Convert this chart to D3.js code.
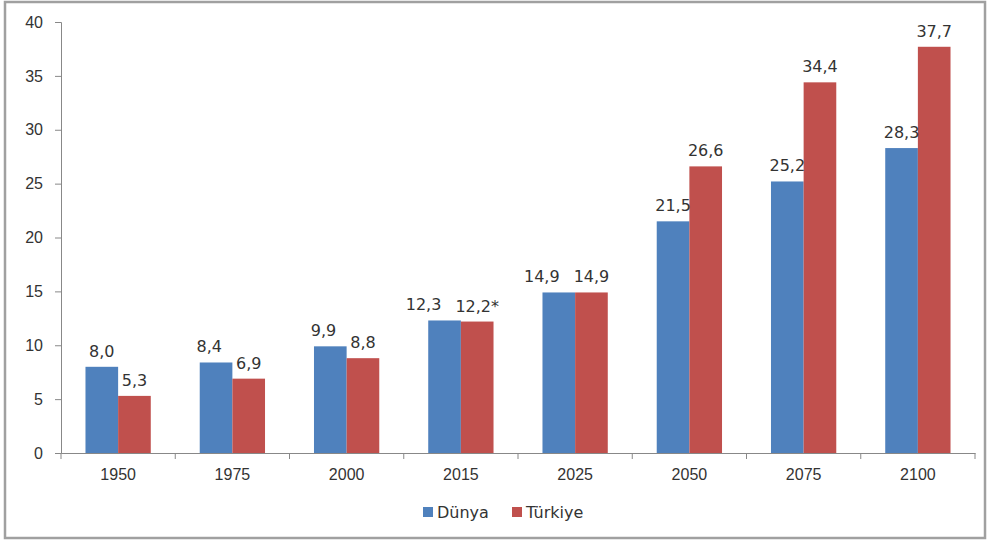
<!DOCTYPE html>
<html>
<head>
<meta charset="utf-8">
<script src="https://cdn.jsdelivr.net/npm/d3@7"></script>
<style>
  body { margin: 0; background: #fff; }
  svg { display: block; font-family: "DejaVu Sans", Verdana, sans-serif; }
</style>
</head>
<body>
<div id="chart"></div>
<script>
// データ
const years = ['1950', '1975', '2000', '2015', '2025', '2050', '2075', '2100'];
const dunya = [8.0, 8.4, 9.9, 12.3, 14.9, 21.5, 25.2, 28.3];
const turkiye = [5.3, 6.9, 8.8, 12.2, 14.9, 26.6, 34.4, 37.7];
const turkiyeNotes = ['', '', '', '*', '', '', '', ''];
const seriesNames = ['Dünya', 'Türkiye'];
const yTicks = [0, 5, 10, 15, 20, 25, 30, 35, 40];

const colors = ['#4f81bd', '#c0504d'];
const width = 989, height = 541;
const margin = { top: 22, right: 14, bottom: 88, left: 61 };

const svg = d3.select('#chart').append('svg')
    .attr('width', width)
    .attr('height', height);

// 外枠
svg.append('rect')
    .attr('x', 5).attr('y', 2)
    .attr('width', 980).attr('height', 536)
    .attr('fill', '#fff')
    .attr('stroke', '#a0a0a0')
    .attr('stroke-width', 2.5);

const x = d3.scaleBand()
    .domain(years)
    .range([margin.left, width - margin.right]);

const inner = d3.scaleBand()
    .domain([0, 1])
    .range([0, x.bandwidth()])
    .paddingOuter(0.75)
    .paddingInner(0);

const y = d3.scaleLinear()
    .domain([0, 40])
    .range([height - margin.bottom, margin.top]);

// Y軸
const yAxis = svg.append('g')
    .attr('transform', `translate(${margin.left},0)`)
    .call(d3.axisLeft(y).tickValues(yTicks).tickSize(6).tickPadding(12));
yAxis.select('.domain').attr('stroke', '#888');
yAxis.selectAll('.tick line').attr('stroke', '#888');
yAxis.selectAll('.tick text').attr('fill', '#333').style('font-size', '16px');

// X軸
const xAxis = svg.append('g')
    .attr('transform', `translate(0,${y(0)})`)
    .call(d3.axisBottom(x).tickSize(0).tickPadding(16));
xAxis.select('.domain').attr('stroke', '#888');
xAxis.selectAll('.tick text').attr('fill', '#333').style('font-size', '16px');
// カテゴリ境界の目盛り
xAxis.selectAll('line.sep')
    .data(years.concat(['end']))
    .enter().append('line')
    .attr('class', 'sep')
    .attr('x1', (d, i) => margin.left + i * x.step())
    .attr('x2', (d, i) => margin.left + i * x.step())
    .attr('y1', 0).attr('y2', 6)
    .attr('stroke', '#888');

// バー
const rows = years.map((yr, i) => ({
    year: yr,
    vals: [
        { s: 0, v: dunya[i], label: d3.format('.1f')(dunya[i]).replace('.', ',') },
        { s: 1, v: turkiye[i], label: d3.format('.1f')(turkiye[i]).replace('.', ',') + turkiyeNotes[i] }
    ]
}));

const groups = svg.selectAll('g.grp')
    .data(rows)
    .enter().append('g')
    .attr('class', 'grp')
    .attr('transform', d => `translate(${x(d.year)},0)`);

groups.selectAll('rect')
    .data(d => d.vals)
    .enter().append('rect')
    .attr('x', d => inner(d.s))
    .attr('y', d => y(d.v))
    .attr('width', inner.bandwidth())
    .attr('height', d => y(0) - y(d.v))
    .attr('fill', d => colors[d.s]);

groups.selectAll('text')
    .data(d => d.vals)
    .enter().append('text')
    .attr('x', d => inner(d.s) + inner.bandwidth() / 2)
    .attr('y', d => y(d.v) - 10)
    .attr('text-anchor', 'middle')
    .attr('fill', '#333')
    .style('font-size', '16px')
    .text(d => d.label);

// ラベルが重なる場合は左のラベルをずらす
groups.each(function() {
    const t = d3.select(this).selectAll('text').nodes();
    const a = t[0].getBBox(), b = t[1].getBBox();
    if (Math.abs(a.y - b.y) < a.height) {
        const gap = b.x - (a.x + a.width);
        if (gap < 14) {
            t[0].setAttribute('x', +t[0].getAttribute('x') - (14 - gap));
        }
    }
});

// 凡例
const legend = svg.append('g').attr('transform', 'translate(423,512)');
const item = legend.selectAll('g')
    .data(seriesNames)
    .enter().append('g')
    .attr('transform', (d, i) => `translate(${i * 89},0)`);
item.append('rect')
    .attr('x', 0).attr('y', -5)
    .attr('width', 10).attr('height', 10)
    .attr('fill', (d, i) => colors[i]);
item.append('text')
    .attr('x', 14).attr('y', 6)
    .attr('fill', '#333')
    .style('font-size', '16px')
    .text(d => d);
</script>
</body>
</html>
